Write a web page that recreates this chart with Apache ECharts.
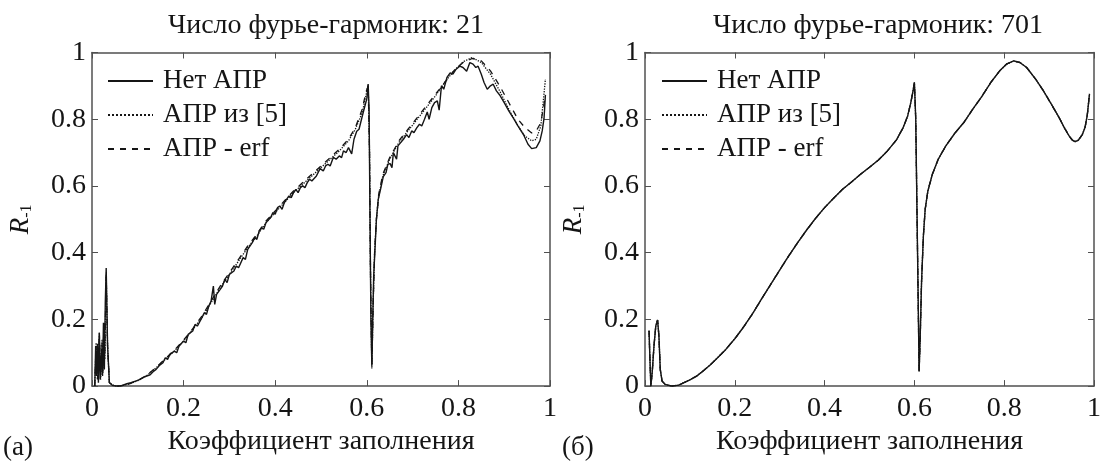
<!DOCTYPE html>
<html>
<head>
<meta charset="utf-8">
<script src="https://cdn.jsdelivr.net/npm/echarts@6/dist/echarts.min.js"></script>
<style>
  html, body { margin: 0; padding: 0; background: #fff; }
  #main { width: 1104px; height: 461px; }
</style>
</head>
<body>
<div id="main"></div>
<script>
// названия серий
const seriesNames = ['Нет АПР', 'АПР из [5]', 'АПР - erf'];
const titles = ['Число фурье-гармоник: 21', 'Число фурье-гармоник: 701'];

// (а) 21 гармоника — без АПР (сплошная)
const leftNoApr = [
  [0.006, 0.0], [0.008, 0.12], [0.010, 0.03], [0.012, 0.127], [0.014, 0.01], [0.016, 0.16],
  [0.018, 0.02], [0.021, 0.112], [0.023, 0.03], [0.025, 0.19], [0.027, 0.05], [0.029, 0.25],
  [0.031, 0.354], [0.034, 0.12], [0.038, 0.01], [0.045, 0.002], [0.055, 0.0], [0.065, 0.001],
  [0.076, 0.007], [0.085, 0.01], [0.095, 0.015], [0.105, 0.02], [0.115, 0.028], [0.127, 0.034],
  [0.135, 0.045], [0.14, 0.05], [0.148, 0.063], [0.155, 0.07], [0.16, 0.085], [0.165, 0.08],
  [0.17, 0.095], [0.18, 0.105], [0.185, 0.1], [0.19, 0.12], [0.2, 0.135], [0.205, 0.13],
  [0.21, 0.155], [0.22, 0.165], [0.225, 0.185], [0.23, 0.18], [0.24, 0.205], [0.245, 0.22],
  [0.25, 0.215], [0.255, 0.24], [0.26, 0.255], [0.265, 0.3], [0.268, 0.245], [0.272, 0.275],
  [0.28, 0.29], [0.285, 0.3], [0.29, 0.32], [0.295, 0.31], [0.3, 0.335], [0.31, 0.345],
  [0.315, 0.36], [0.32, 0.355], [0.33, 0.385], [0.335, 0.38], [0.34, 0.41], [0.35, 0.43],
  [0.355, 0.445], [0.36, 0.44], [0.365, 0.465], [0.37, 0.475], [0.375, 0.47], [0.38, 0.49],
  [0.39, 0.505], [0.395, 0.52], [0.4, 0.515], [0.405, 0.535], [0.41, 0.54], [0.415, 0.53],
  [0.42, 0.55], [0.43, 0.57], [0.435, 0.565], [0.44, 0.58], [0.445, 0.59], [0.45, 0.58],
  [0.455, 0.595], [0.46, 0.6], [0.465, 0.595], [0.47, 0.61], [0.475, 0.62], [0.48, 0.615],
  [0.49, 0.63], [0.498, 0.652], [0.505, 0.645], [0.51, 0.66], [0.515, 0.665], [0.52, 0.66],
  [0.527, 0.686], [0.533, 0.68], [0.54, 0.69], [0.545, 0.685], [0.549, 0.705], [0.555, 0.7],
  [0.56, 0.715], [0.567, 0.696], [0.572, 0.74], [0.578, 0.764], [0.583, 0.77], [0.589, 0.803],
  [0.594, 0.83], [0.6, 0.861], [0.603, 0.905], [0.605, 0.83], [0.607, 0.5], [0.609, 0.2],
  [0.611, 0.063], [0.613, 0.2], [0.615, 0.33], [0.618, 0.414], [0.621, 0.5], [0.625, 0.56],
  [0.63, 0.59], [0.636, 0.628], [0.642, 0.64], [0.646, 0.665], [0.651, 0.667], [0.655, 0.655],
  [0.658, 0.7], [0.662, 0.705], [0.665, 0.68], [0.668, 0.72], [0.672, 0.725], [0.68, 0.74],
  [0.687, 0.754], [0.692, 0.745], [0.698, 0.765], [0.703, 0.76], [0.709, 0.774], [0.715, 0.785],
  [0.72, 0.78], [0.726, 0.8], [0.732, 0.822], [0.736, 0.8], [0.742, 0.835], [0.748, 0.85],
  [0.754, 0.855], [0.758, 0.827], [0.763, 0.9], [0.768, 0.89], [0.775, 0.925], [0.782, 0.939],
  [0.788, 0.935], [0.795, 0.95], [0.803, 0.959], [0.81, 0.955], [0.818, 0.944], [0.825, 0.97],
  [0.832, 0.965], [0.838, 0.955], [0.843, 0.959], [0.85, 0.935], [0.856, 0.91], [0.863, 0.89],
  [0.87, 0.9], [0.876, 0.905], [0.883, 0.885], [0.891, 0.871], [0.9, 0.85], [0.91, 0.825],
  [0.92, 0.803], [0.93, 0.78], [0.942, 0.754], [0.952, 0.725], [0.96, 0.712], [0.964, 0.71],
  [0.97, 0.715], [0.978, 0.735], [0.983, 0.765], [0.987, 0.803], [0.99, 0.873]
];

// (а) АПР из [5] (точки)
const leftApr5 = [
  [0.006, 0.0], [0.009, 0.13], [0.012, 0.02], [0.016, 0.15], [0.019, 0.02], [0.022, 0.14],
  [0.024, 0.04], [0.026, 0.19], [0.028, 0.08], [0.031, 0.34], [0.034, 0.12], [0.038, 0.01],
  [0.05, 0.0], [0.06, 0.0], [0.08, 0.006], [0.1, 0.016], [0.12, 0.032], [0.14, 0.055],
  [0.16, 0.08], [0.18, 0.105], [0.2, 0.135], [0.22, 0.17], [0.24, 0.205], [0.26, 0.25],
  [0.28, 0.295], [0.3, 0.335], [0.32, 0.375], [0.34, 0.415], [0.36, 0.45], [0.38, 0.49],
  [0.4, 0.52], [0.42, 0.55], [0.44, 0.58], [0.46, 0.605], [0.48, 0.63], [0.5, 0.655],
  [0.52, 0.68], [0.54, 0.705], [0.56, 0.735], [0.575, 0.77], [0.59, 0.82], [0.598, 0.87],
  [0.603, 0.905], [0.606, 0.7], [0.608, 0.35], [0.611, 0.053], [0.614, 0.25], [0.617, 0.4],
  [0.621, 0.5], [0.626, 0.57], [0.635, 0.63], [0.65, 0.68], [0.67, 0.73], [0.69, 0.765],
  [0.71, 0.8], [0.73, 0.835], [0.75, 0.87], [0.77, 0.91], [0.79, 0.945], [0.81, 0.972],
  [0.83, 0.985], [0.85, 0.97], [0.87, 0.935], [0.89, 0.885], [0.91, 0.83], [0.93, 0.78],
  [0.945, 0.75], [0.96, 0.735], [0.97, 0.74], [0.98, 0.78], [0.99, 0.92]
];

// (а) АПР - erf (штрихи)
const leftErf = [
  [0.006, 0.0], [0.009, 0.12], [0.012, 0.02], [0.016, 0.16], [0.019, 0.03], [0.022, 0.13],
  [0.024, 0.05], [0.026, 0.19], [0.028, 0.1], [0.031, 0.33], [0.034, 0.12], [0.038, 0.01],
  [0.05, 0.0], [0.06, 0.0], [0.08, 0.006], [0.1, 0.017], [0.12, 0.033], [0.14, 0.056],
  [0.16, 0.082], [0.18, 0.108], [0.2, 0.138], [0.22, 0.172], [0.24, 0.21], [0.26, 0.255],
  [0.28, 0.3], [0.3, 0.34], [0.32, 0.38], [0.34, 0.42], [0.36, 0.455], [0.38, 0.495],
  [0.4, 0.525], [0.42, 0.555], [0.44, 0.585], [0.46, 0.61], [0.48, 0.635], [0.5, 0.66],
  [0.52, 0.685], [0.54, 0.71], [0.56, 0.74], [0.575, 0.775], [0.59, 0.83], [0.598, 0.88],
  [0.603, 0.9], [0.606, 0.7], [0.608, 0.35], [0.611, 0.06], [0.614, 0.25], [0.617, 0.4],
  [0.621, 0.5], [0.626, 0.575], [0.635, 0.635], [0.65, 0.685], [0.67, 0.735], [0.69, 0.77],
  [0.71, 0.805], [0.73, 0.84], [0.75, 0.875], [0.77, 0.91], [0.79, 0.945], [0.81, 0.97],
  [0.83, 0.982], [0.85, 0.975], [0.87, 0.945], [0.89, 0.9], [0.91, 0.85], [0.93, 0.8],
  [0.945, 0.775], [0.96, 0.759], [0.97, 0.765], [0.98, 0.79], [0.99, 0.87]
];

// (б) 701 гармоника — все три кривые совпадают
const rightCurve = [
  [0.009, 0.166], [0.011, 0.08], [0.013, 0.0], [0.016, 0.04], [0.02, 0.12], [0.024, 0.18],
  [0.028, 0.198], [0.031, 0.15], [0.034, 0.05], [0.038, 0.015], [0.045, 0.005], [0.06, 0.0],
  [0.075, 0.003], [0.086, 0.01], [0.1, 0.019], [0.115, 0.03], [0.13, 0.046], [0.145, 0.063],
  [0.16, 0.083], [0.18, 0.11], [0.2, 0.142], [0.22, 0.178], [0.24, 0.218], [0.26, 0.262],
  [0.28, 0.305], [0.3, 0.348], [0.32, 0.39], [0.34, 0.43], [0.36, 0.468], [0.38, 0.503],
  [0.4, 0.535], [0.42, 0.563], [0.44, 0.59], [0.46, 0.612], [0.48, 0.635], [0.5, 0.656],
  [0.52, 0.678], [0.54, 0.705], [0.56, 0.738], [0.575, 0.775], [0.585, 0.81], [0.592, 0.85],
  [0.597, 0.885], [0.6, 0.91], [0.603, 0.8], [0.606, 0.5], [0.609, 0.2], [0.6105, 0.044],
  [0.613, 0.15], [0.616, 0.316], [0.62, 0.45], [0.624, 0.53], [0.63, 0.585], [0.64, 0.635],
  [0.653, 0.68], [0.67, 0.72], [0.69, 0.758], [0.71, 0.79], [0.73, 0.83], [0.75, 0.868],
  [0.77, 0.91], [0.79, 0.945], [0.805, 0.965], [0.821, 0.975], [0.835, 0.97], [0.85, 0.955],
  [0.87, 0.92], [0.886, 0.888], [0.905, 0.845], [0.923, 0.803], [0.935, 0.772], [0.945, 0.749],
  [0.952, 0.737], [0.958, 0.733], [0.965, 0.737], [0.974, 0.754], [0.98, 0.775], [0.985, 0.812],
  [0.99, 0.876]
];

const FONT = "'Liberation Serif', 'Times New Roman', 'DejaVu Serif', serif";
const INK = '#151515';
const FRAME = '#505050';

const lineStyles = [
  { type: 'solid', width: 1.4 },
  { type: 'dotted', width: 1.3 },
  { type: [6, 6], width: 1.3 }
];

let myChart = echarts.init(document.getElementById('main'), null, { renderer: 'canvas' });

function bottomAxis(gridIndex) {
  return {
    type: 'value', gridIndex: gridIndex, position: 'bottom',
    min: 0, max: 1, interval: 0.2,
    name: 'Коэффициент заполнения', nameLocation: 'middle', nameGap: 40,
    nameTextStyle: { fontFamily: FONT, fontSize: 28, color: INK },
    axisLine: { show: true, onZero: false, lineStyle: { color: FRAME, width: 1.5 } },
    axisTick: { show: true, inside: true, length: 6, lineStyle: { color: FRAME } },
    axisLabel: { fontFamily: FONT, fontSize: 28, color: INK, margin: 9, showMinLabel: true, showMaxLabel: true },
    splitLine: { show: false }
  };
}
function topAxis(gridIndex) {
  return {
    type: 'value', gridIndex: gridIndex, position: 'top',
    min: 0, max: 1, interval: 0.2,
    axisLine: { show: true, onZero: false, lineStyle: { color: FRAME, width: 1.5 } },
    axisTick: { show: true, inside: true, length: 6, lineStyle: { color: FRAME } },
    axisLabel: { show: false },
    splitLine: { show: false }
  };
}
function leftAxis(gridIndex) {
  return {
    type: 'value', gridIndex: gridIndex, position: 'left',
    min: 0, max: 1, interval: 0.2,
    name: '{i|R}{s|-1}', nameLocation: 'middle', nameGap: 57, nameRotate: 90,
    nameTextStyle: {
      color: INK,
      rich: {
        i: { fontFamily: FONT, fontSize: 27, fontStyle: 'italic', color: INK },
        s: { fontFamily: FONT, fontSize: 16, color: INK, verticalAlign: 'bottom', padding: [12, 0, 0, 0] }
      }
    },
    axisLine: { show: true, onZero: false, lineStyle: { color: FRAME, width: 1.5 } },
    axisTick: { show: true, inside: true, length: 6, lineStyle: { color: FRAME } },
    axisLabel: { fontFamily: FONT, fontSize: 28, color: INK, margin: 6 },
    splitLine: { show: false }
  };
}
function rightAxis(gridIndex) {
  return {
    type: 'value', gridIndex: gridIndex, position: 'right',
    min: 0, max: 1, interval: 0.2,
    axisLine: { show: true, onZero: false, lineStyle: { color: FRAME, width: 1.5 } },
    axisTick: { show: true, inside: true, length: 6, lineStyle: { color: FRAME } },
    axisLabel: { show: false },
    splitLine: { show: false }
  };
}

function makeSeries(data, k, axisIdx) {
  return {
    name: seriesNames[k],
    type: 'line',
    xAxisIndex: axisIdx,
    yAxisIndex: axisIdx,
    data: data,
    symbol: 'none',
    showSymbol: false,
    smooth: false,
    silent: true,
    z: 3 - k,
    lineStyle: Object.assign({ color: INK }, lineStyles[k]),
    itemStyle: { color: INK }
  };
}

function legendAt(left) {
  return {
    orient: 'vertical', left: left, top: 62,
    itemWidth: 45, itemHeight: 12, itemGap: 6,
    data: seriesNames,
    // только линия, без кружка
    itemStyle: { opacity: 0 },
    textStyle: { fontFamily: FONT, fontSize: 27, color: INK, lineHeight: 28, padding: [0, 0, 0, 5] },
    selectedMode: false
  };
}

let option = {
  backgroundColor: '#fff',
  animation: false,
  title: [
    { text: titles[0], left: 321, top: 7, textAlign: 'center',
      textStyle: { fontFamily: FONT, fontSize: 28, fontWeight: 'normal', color: INK } },
    { text: titles[1], left: 873, top: 7, textAlign: 'center',
      textStyle: { fontFamily: FONT, fontSize: 28, fontWeight: 'normal', color: INK } },
    { text: '(а)', left: -2, top: 429,
      textStyle: { fontFamily: FONT, fontSize: 27, fontWeight: 'normal', color: INK } },
    { text: '(б)', left: 557, top: 429,
      textStyle: { fontFamily: FONT, fontSize: 27, fontWeight: 'normal', color: INK } }
  ],
  legend: [legendAt(102), legendAt(656)],
  grid: [
    { left: 92, top: 52.5, width: 458, height: 342.5 },
    { left: 645, top: 52.5, width: 457, height: 342.5 }
  ],
  // 0,1 — левый график; 2,3 — правый
  xAxis: [bottomAxis(0), topAxis(0), bottomAxis(1), topAxis(1)],
  yAxis: [leftAxis(0), rightAxis(0), leftAxis(1), rightAxis(1)],
  series: [
    makeSeries(leftNoApr, 0, 0),
    makeSeries(leftApr5, 1, 0),
    makeSeries(leftErf, 2, 0),
    makeSeries(rightCurve, 0, 2),
    makeSeries(rightCurve, 1, 2),
    makeSeries(rightCurve, 2, 2)
  ]
};

myChart.setOption(option);
</script>
</body>
</html>
